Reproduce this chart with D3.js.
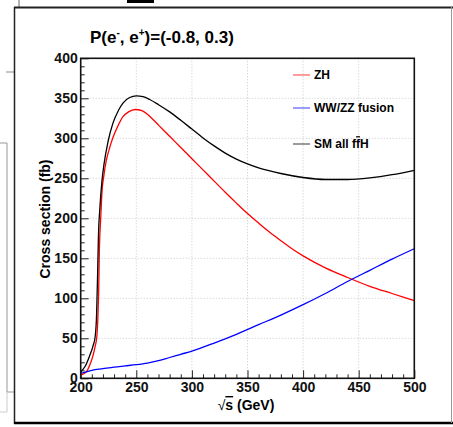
<!DOCTYPE html>
<html>
<head>
<meta charset="utf-8">
<script src="https://cdn.jsdelivr.net/npm/d3@7"></script>
<style>
  body { margin: 0; background: #fff; }
  text { font-family: "Liberation Sans", Arial, sans-serif; font-weight: bold; }
</style>
</head>
<body>
<div id="chart"></div>
<script>
// cross sections: [sqrt(s) GeV, sigma fb]
const zhPoints = [
  [200, 4], [205, 8], [208, 16], [211, 28], [213, 40], [214.5, 52], [215.5, 78],
  [216.2, 112], [216.8, 160], [218, 200], [219, 230], [221, 255], [223, 272],
  [226, 288], [229, 301], [233, 314], [238, 327], [243, 333], [249, 336],
  [255, 334.5], [260, 330], [265, 323.5], [270, 316.5], [280, 302.5], [290, 288.5],
  [300, 274.5], [310, 260.5], [320, 246.5], [330, 232.5], [340, 219], [350, 206],
  [360, 194], [370, 182.5], [380, 172], [390, 162], [400, 153], [420, 138],
  [440, 126], [460, 115], [480, 106], [500, 97]
];
const fusionPoints = [
  [200, 6], [210, 10], [220, 12], [230, 14], [240, 15.5], [250, 17], [260, 19],
  [270, 22], [280, 26], [290, 30], [300, 34], [320, 44], [340, 55], [360, 67],
  [380, 79], [400, 92], [420, 106], [440, 121], [460, 135], [480, 149], [500, 162]
];
const smPoints = [
  [200, 8], [204, 15], [208, 28], [211, 40], [213, 52], [214.3, 80], [215.2, 130],
  [216, 180], [217.3, 214], [219, 245], [221, 268], [224.6, 296], [229, 319],
  [234, 335], [238, 344], [244, 351], [250, 353], [256, 352], [262, 348.5],
  [270, 342], [280, 333], [290, 322.5], [300, 311.5], [310, 300.5], [320, 290.5],
  [330, 281.5], [340, 274], [350, 268], [360, 263], [380, 256], [400, 251],
  [420, 248.5], [440, 248.5], [460, 250.5], [480, 254.5], [500, 260]
];

const xTicks = [200, 250, 300, 350, 400, 450, 500];
const yTicks = [0, 50, 100, 150, 200, 250, 300, 350, 400];

const series = [
  { name: "ZH", color: "#ff0000", points: zhPoints },
  { name: "WW/ZZ fusion", color: "#0000ff", points: fusionPoints },
  { name: "SM all ffH", color: "#000000", points: smPoints }
];

const width = 453, height = 427;
const plot = { left: 80.7, right: 414.3, top: 58.3, bottom: 378.3 };

const svg = d3.select("#chart").append("svg")
  .attr("width", width)
  .attr("height", height);

svg.append("rect").attr("width", width).attr("height", height).attr("fill", "#fff");

// bits of the surrounding page/canvas
const deco = svg.append("g");
deco.append("rect").attr("x", 127).attr("y", 0).attr("width", 27).attr("height", 3).attr("fill", "#000");
deco.append("line").attr("x1", 19).attr("x2", 19).attr("y1", 0).attr("y2", 7).attr("stroke", "#666");
deco.append("line").attr("x1", 6).attr("x2", 14).attr("y1", 72).attr("y2", 72).attr("stroke", "#888");
deco.append("path").attr("d", "M0,143H7V392H14").attr("fill", "none").attr("stroke", "#999");
deco.append("path").attr("d", "M0,412H7V392").attr("fill", "none").attr("stroke", "#ccc");

// outer canvas frame
deco.append("line").attr("x1", 14).attr("x2", 453).attr("y1", 7.5).attr("y2", 7.5).attr("stroke", "#222").attr("stroke-width", 2);
deco.append("line").attr("x1", 14.5).attr("x2", 14.5).attr("y1", 7).attr("y2", 424).attr("stroke", "#222").attr("stroke-width", 1.5);
deco.append("line").attr("x1", 14).attr("x2", 453).attr("y1", 423).attr("y2", 423).attr("stroke", "#000").attr("stroke-width", 2.5);
deco.append("line").attr("x1", 451.5).attr("x2", 451.5).attr("y1", 7).attr("y2", 423).attr("stroke", "#999");

const x = d3.scaleLinear().domain([200, 500]).range([plot.left, plot.right]);
const y = d3.scaleLinear().domain([0, 400]).range([plot.bottom, plot.top]);

// grid
const grid = svg.append("g").attr("stroke", "#c8c8c8").attr("stroke-dasharray", "1,2");
grid.selectAll("line.gx").data(xTicks.slice(1, -1)).join("line")
  .attr("x1", d => x(d)).attr("x2", d => x(d))
  .attr("y1", plot.top).attr("y2", plot.bottom);
grid.selectAll("line.gy").data(yTicks.slice(1, -1)).join("line")
  .attr("y1", d => y(d)).attr("y2", d => y(d))
  .attr("x1", plot.left).attr("x2", plot.right);

// axes with inward ticks
const minorX = d3.range(200, 501, 10).filter(d => d % 50 !== 0);
const minorY = d3.range(0, 401, 10).filter(d => d % 50 !== 0);

const gxMinor = svg.append("g").attr("transform", `translate(0,${plot.bottom})`)
  .call(d3.axisBottom(x).tickValues(minorX).tickSize(-4).tickFormat(""));
const gx = svg.append("g").attr("transform", `translate(0,${plot.bottom})`)
  .call(d3.axisBottom(x).tickValues(xTicks).tickSize(-8).tickPadding(4).tickFormat(d3.format("d")));
const gyMinor = svg.append("g").attr("transform", `translate(${plot.left},0)`)
  .call(d3.axisLeft(y).tickValues(minorY).tickSize(-4).tickFormat(""));
const gy = svg.append("g").attr("transform", `translate(${plot.left},0)`)
  .call(d3.axisLeft(y).tickValues(yTicks).tickSize(-8).tickPadding(3).tickFormat(d3.format("d")));

[gxMinor, gx, gyMinor, gy].forEach(a => {
  a.select(".domain").remove();
  a.selectAll("line").attr("stroke", "#222");
  a.selectAll("text").attr("font-size", 14).attr("fill", "#111")
    .style("font-family", "'Liberation Sans', Arial, sans-serif").style("font-weight", "bold");
});

// curves
const line = d3.line()
  .x(d => x(d[0]))
  .y(d => y(d[1]))
  .curve(d3.curveMonotoneX);

svg.append("g").selectAll("path").data(series).join("path")
  .attr("d", d => line(d.points))
  .attr("fill", "none")
  .attr("stroke", d => d.color)
  .attr("stroke-width", 1.3);

// plot frame
svg.append("rect")
  .attr("x", plot.left).attr("y", plot.top)
  .attr("width", plot.right - plot.left).attr("height", plot.bottom - plot.top)
  .attr("fill", "none").attr("stroke", "#111").attr("stroke-width", 1.6);

// title
const title = svg.append("text").attr("x", 90).attr("y", 43).attr("font-size", 17).attr("fill", "#000");
title.append("tspan").text("P(e");
title.append("tspan").attr("font-size", 10).attr("dy", -7).text("-");
title.append("tspan").attr("dy", 7).text(", e");
title.append("tspan").attr("font-size", 10).attr("dy", -7).text("+");
title.append("tspan").attr("dy", 7).text(")=(-0.8, 0.3)");

// axis titles
svg.append("text")
  .attr("transform", "translate(50,219) rotate(-90)")
  .attr("text-anchor", "middle")
  .attr("font-size", 14)
  .text("Cross section (fb)");

const xt = svg.append("text")
  .attr("x", 246).attr("y", 410)
  .attr("text-anchor", "middle")
  .attr("font-size", 14);
xt.append("tspan").attr("font-weight", "normal").text("√");
xt.append("tspan").style("text-decoration", "overline").text("s");
xt.append("tspan").text(" (GeV)");

// legend
const legendY = [75, 108, 144];
const lg = svg.append("g").selectAll("g").data(series).join("g")
  .attr("transform", (d, i) => `translate(293,${legendY[i]})`);
lg.append("line").attr("x1", 0).attr("x2", 17)
  .attr("stroke", d => d.color).attr("stroke-opacity", 0.6).attr("stroke-width", 1.3);
lg.each(function(d) {
  const t = d3.select(this).append("text").attr("x", 21).attr("dy", "0.35em").attr("font-size", 12);
  if (d.name === "SM all ffH") {
    t.append("tspan").text("SM all f");
    t.append("tspan").style("text-decoration", "overline").text("f");
    t.append("tspan").text("H");
  } else {
    t.text(d.name);
  }
});
</script>
</body>
</html>
